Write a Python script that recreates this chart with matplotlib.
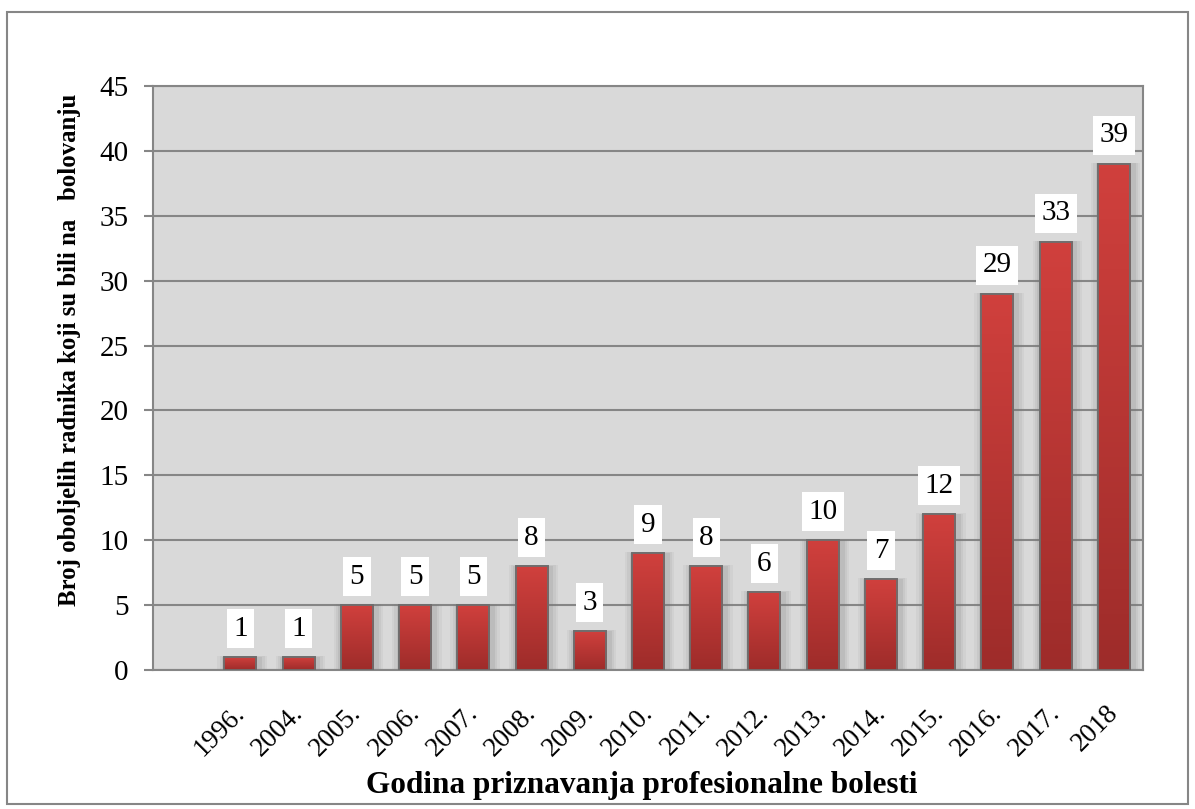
import matplotlib
matplotlib.use("Agg")
import matplotlib.pyplot as plt
import numpy as np
from matplotlib.colors import LinearSegmentedColormap
from matplotlib.patches import Rectangle
from matplotlib.transforms import ScaledTranslation

# data (first category is empty, as in the original chart)
years = ["", "1996.", "2004.", "2005.", "2006.", "2007.", "2008.", "2009.", "2010.",
         "2011.", "2012.", "2013.", "2014.", "2015.", "2016.", "2017.", "2018"]
cases = [None, 1, 1, 5, 5, 5, 8, 3, 9, 8, 6, 10, 7, 12, 29, 33, 39]

plt.rcParams["font.family"] = ["Liberation Serif", "DejaVu Serif"]

fig = plt.figure(figsize=(11.95, 8.09), dpi=100)
ax = fig.add_axes([153 / 1195, 1 - 670 / 809, 990 / 1195, 584 / 809])
ax.set_facecolor("#d9d9d9")

x = np.arange(len(years))
width = 0.55
grad = LinearSegmentedColormap.from_list("bar", ["#9e2c2a", "#d0403d"])

for xi, v in zip(x, cases):
    if v is None:
        continue
    # soft shadow around the bar
    for k, a in [(0.30, 0.08), (0.22, 0.10), (0.14, 0.14)]:
        ax.add_patch(Rectangle((xi - (width + k) / 2 + 0.03, 0), width + k, v + k * 0.25,
                               facecolor="#7a7a7a", alpha=a, lw=0, zorder=2))
    bar = ax.bar(xi, v, width=width, color="#c03535", edgecolor="#6e6e6e",
                 lw=1.2, zorder=3)[0]
    img = ax.imshow(np.linspace(1, 0, 100).reshape(-1, 1), cmap=grad, aspect="auto",
                    extent=(xi - width / 2, xi + width / 2, 0, v), zorder=3.5,
                    origin="upper")
    img.set_clip_path(bar)
    ax.add_patch(Rectangle((xi - width / 2, 0), width, v, fill=False,
                           edgecolor="#6e6e6e", lw=1.3, zorder=4))
    ax.annotate(str(v), (xi, v), xytext=(0, 20.5), textcoords="offset points",
                ha="center", va="center", fontsize=21, zorder=5,
                bbox=dict(boxstyle="square,pad=0.22", fc="white", ec="none"))

ax.set_xlim(-0.5, len(years) - 0.5)
ax.set_ylim(0, 45)
ax.set_yticks(range(0, 46, 5))
ax.yaxis.grid(True, color="#868686", lw=1.5, zorder=1)
ax.set_axisbelow(True)
ax.tick_params(axis="y", labelsize=21, length=6.5, width=1.5, color="#868686", pad=11)
ax.tick_params(axis="x", length=0, labelsize=19.5, pad=22)
ax.set_xticks(x)
ax.set_xticklabels(years, rotation=45, ha="right", rotation_mode="anchor")
for lbl in ax.get_xticklabels():
    lbl.set_transform(lbl.get_transform() + ScaledTranslation(-0.08, 0, fig.dpi_scale_trans))
for s in ax.spines.values():
    s.set_color("#868686")
    s.set_linewidth(1.5)

ax.set_ylabel("Broj oboljelih radnika koji su bili na   bolovanju",
              fontsize=17.8, fontweight="bold")
ax.yaxis.set_label_coords(-0.073, 0.548)
fig.text(642 / 1195, 1 - 785 / 809, "Godina priznavanja profesionalne bolesti",
         ha="center", va="center", fontsize=22.5, fontweight="bold")

fig.patches.append(Rectangle((7 / 1195, 5 / 809), 1181 / 1195, 792 / 809,
                             transform=fig.transFigure, fill=False,
                             edgecolor="#868686", lw=1.5))

fig.savefig("out.png", dpi=100)
